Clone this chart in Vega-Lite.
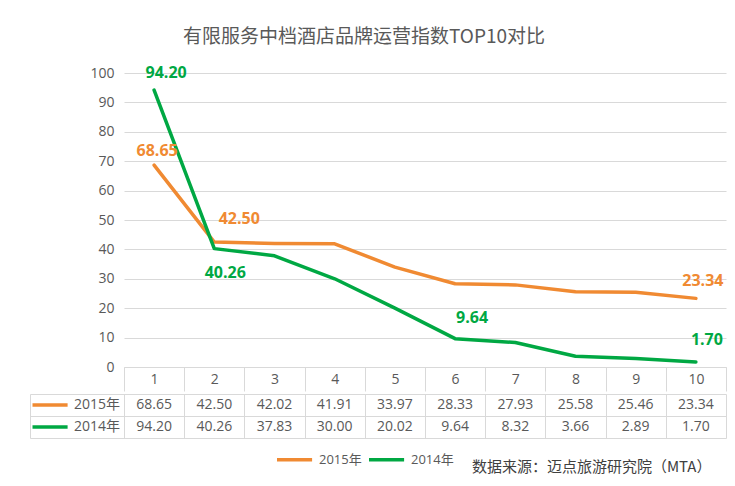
{
  "$schema": "https://vega.github.io/schema/vega-lite/v6.json",
  "background": "white",
  "padding": {"left": 25, "top": 28, "right": 5, "bottom": 5},
  "title": {
    "text": "有限服务中档酒店品牌运营指数TOP10对比",
    "font": "Noto Sans CJK SC",
    "fontSize": 19,
    "fontWeight": "normal",
    "color": "#595959",
    "anchor": "middle",
    "dx": -12,
    "offset": 18
  },
  "datasets": {
    "scores": [
      {"rank": 1, "series": "2015年", "score": 68.65},
      {"rank": 2, "series": "2015年", "score": 42.50},
      {"rank": 3, "series": "2015年", "score": 42.02},
      {"rank": 4, "series": "2015年", "score": 41.91},
      {"rank": 5, "series": "2015年", "score": 33.97},
      {"rank": 6, "series": "2015年", "score": 28.33},
      {"rank": 7, "series": "2015年", "score": 27.93},
      {"rank": 8, "series": "2015年", "score": 25.58},
      {"rank": 9, "series": "2015年", "score": 25.46},
      {"rank": 10, "series": "2015年", "score": 23.34},
      {"rank": 1, "series": "2014年", "score": 94.20},
      {"rank": 2, "series": "2014年", "score": 40.26},
      {"rank": 3, "series": "2014年", "score": 37.83},
      {"rank": 4, "series": "2014年", "score": 30.00},
      {"rank": 5, "series": "2014年", "score": 20.02},
      {"rank": 6, "series": "2014年", "score": 9.64},
      {"rank": 7, "series": "2014年", "score": 8.32},
      {"rank": 8, "series": "2014年", "score": 3.66},
      {"rank": 9, "series": "2014年", "score": 2.89},
      {"rank": 10, "series": "2014年", "score": 1.70}
    ]
  },
  "spacing": 1,
  "resolve": {"scale": {"color": "independent"}},
  "vconcat": [
    {
      "width": 602,
      "height": 294,
      "data": {"name": "scores"},
      "encoding": {
        "x": {
          "field": "rank",
          "type": "ordinal",
          "scale": {"type": "band", "paddingInner": 0, "paddingOuter": 0},
          "axis": {
            "orient": "bottom",
            "title": null,
            "labelAngle": 0,
            "grid": false,
            "tickBand": "extent",
            "tickSize": 24,
            "tickColor": "#d9d9d9",
            "domainColor": "#d9d9d9",
            "labelBaseline": "middle",
            "labelPadding": -12
          }
        },
        "y": {
          "field": "score",
          "type": "quantitative",
          "scale": {"domain": [0, 100]},
          "axis": {
            "title": null,
            "values": [0, 10, 20, 30, 40, 50, 60, 70, 80, 90, 100],
            "domain": false,
            "ticks": false,
            "labelPadding": 10,
            "grid": true,
            "gridColor": "#d9d9d9"
          }
        },
        "color": {
          "field": "series",
          "type": "nominal",
          "scale": {"domain": ["2015年", "2014年"], "range": ["#F08A32", "#00A843"]},
          "legend": null
        }
      },
      "layer": [
        {"mark": {"type": "line", "strokeWidth": 3.5, "strokeJoin": "round", "strokeCap": "round"}},
        {
          "transform": [{"filter": "datum.series === '2014年' && datum.rank === 1"}],
          "mark": {"type": "text", "font": "Open Sans", "fontSize": 16, "fontWeight": "bold", "dx": 12, "dy": -17},
          "encoding": {"text": {"field": "score", "type": "quantitative", "format": ".2f"}}
        },
        {
          "transform": [{"filter": "datum.series === '2015年' && datum.rank === 1"}],
          "mark": {"type": "text", "font": "Open Sans", "fontSize": 16, "fontWeight": "bold", "dx": 3, "dy": -14},
          "encoding": {"text": {"field": "score", "type": "quantitative", "format": ".2f"}}
        },
        {
          "transform": [{"filter": "datum.series === '2015年' && datum.rank === 2"}],
          "mark": {"type": "text", "font": "Open Sans", "fontSize": 16, "fontWeight": "bold", "dx": 25, "dy": -23},
          "encoding": {"text": {"field": "score", "type": "quantitative", "format": ".2f"}}
        },
        {
          "transform": [{"filter": "datum.series === '2014年' && datum.rank === 2"}],
          "mark": {"type": "text", "font": "Open Sans", "fontSize": 16, "fontWeight": "bold", "dx": 11, "dy": 24},
          "encoding": {"text": {"field": "score", "type": "quantitative", "format": ".2f"}}
        },
        {
          "transform": [{"filter": "datum.series === '2014年' && datum.rank === 6"}],
          "mark": {"type": "text", "font": "Open Sans", "fontSize": 16, "fontWeight": "bold", "dx": 17, "dy": -21},
          "encoding": {"text": {"field": "score", "type": "quantitative", "format": ".2f"}}
        },
        {
          "transform": [{"filter": "datum.series === '2015年' && datum.rank === 10"}],
          "mark": {"type": "text", "font": "Open Sans", "fontSize": 16, "fontWeight": "bold", "dx": 7, "dy": -17},
          "encoding": {"text": {"field": "score", "type": "quantitative", "format": ".2f"}}
        },
        {
          "transform": [{"filter": "datum.series === '2014年' && datum.rank === 10"}],
          "mark": {"type": "text", "font": "Open Sans", "fontSize": 16, "fontWeight": "bold", "dx": 11, "dy": -22},
          "encoding": {"text": {"field": "score", "type": "quantitative", "format": ".2f"}}
        }
      ]
    },
    {
      "width": 602,
      "height": 44,
      "data": {"name": "scores"},
      "encoding": {
        "x": {
          "field": "rank",
          "type": "ordinal",
          "scale": {"type": "band", "paddingInner": 0, "paddingOuter": 0},
          "axis": {
            "orient": "bottom",
            "labels": false,
            "ticks": false,
            "domain": false,
            "grid": true,
            "tickBand": "extent",
            "gridColor": "#d9d9d9",
            "title": "数据来源：迈点旅游研究院（MTA）",
            "titleFont": "Noto Sans CJK SC",
            "titleFontSize": 15,
            "titleFontWeight": "normal",
            "titleColor": "#404040",
            "titleX": 587,
            "titleY": 28,
            "titleAlign": "right",
            "titleBaseline": "middle"
          }
        },
        "y": {
          "field": "series",
          "type": "nominal",
          "sort": ["2015年", "2014年"],
          "scale": {"type": "band", "paddingInner": 0, "paddingOuter": 0},
          "axis": {
            "orient": "left",
            "title": null,
            "labels": false,
            "offset": 94,
            "grid": false,
            "tickBand": "extent",
            "tickSize": -696,
            "tickColor": "#d9d9d9",
            "domainColor": "#d9d9d9"
          }
        }
      },
      "resolve": {"scale": {"color": "independent"}},
      "layer": [
        {
          "mark": {"type": "text", "font": "Open Sans", "fontSize": 14},
          "encoding": {
            "text": {"field": "score", "type": "quantitative", "format": ".2f"},
            "color": {
              "field": "series",
              "type": "nominal",
              "scale": {"domain": ["2015年", "2014年"], "range": ["#595959", "#595959"]},
              "legend": {
                "orient": "none",
                "legendX": -98.5,
                "legendY": 4,
                "direction": "vertical",
                "title": null,
                "padding": 0,
                "rowPadding": 8,
                "symbolType": "M0,0H11.7",
                "symbolSize": 36,
                "symbolStrokeWidth": 3.5,
                "labelOffset": 34.5,
                "labelFont": "Open Sans, Noto Sans CJK SC",
                "labelFontSize": 14,
                "labelColor": "#595959",
                "encode": {
                  "symbols": {
                    "update": {
                      "stroke": {"signal": "datum.value === '2015年' ? '#F08A32' : '#00A843'"},
                      "fill": {"value": "transparent"},
                      "strokeWidth": {"value": 3.5},
                      "opacity": {"value": 1}
                    }
                  }
                }
              }
            }
          }
        },
        {
          "mark": {"type": "text", "text": ""},
          "encoding": {
            "color": {
              "field": "series",
              "type": "nominal",
              "scale": {"domain": ["2015年", "2014年"], "range": ["#F08A32", "#00A843"]},
              "legend": {
                "orient": "none",
                "legendX": 146.5,
                "legendY": 59,
                "direction": "horizontal",
                "title": null,
                "padding": 0,
                "columnPadding": -1,
                "symbolType": "M0,0H11.7",
                "symbolSize": 36,
                "symbolStrokeWidth": 3.5,
                "labelOffset": 35.5,
                "labelFont": "Open Sans, Noto Sans CJK SC",
                "labelFontSize": 13,
                "labelColor": "#595959",
                "encode": {
                  "symbols": {
                    "update": {
                      "stroke": {"signal": "datum.value === '2015年' ? '#F08A32' : '#00A843'"},
                      "fill": {"value": "transparent"},
                      "strokeWidth": {"value": 3.5},
                      "opacity": {"value": 1}
                    }
                  }
                }
              }
            }
          }
        }
      ]
    }
  ],
  "config": {
    "view": {"stroke": null},
    "axis": {"labelFont": "Open Sans", "labelFontSize": 14, "labelColor": "#595959"}
  }
}
